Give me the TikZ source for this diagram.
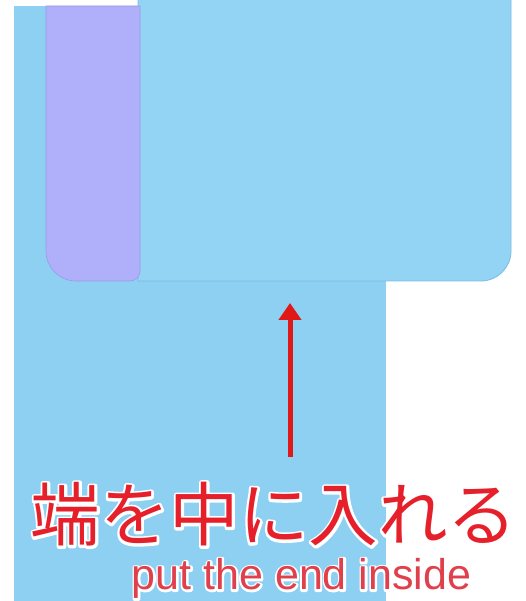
\documentclass[tikz,border=0pt]{standalone}
\usepackage{fontspec}
\setmainfont{Liberation Sans}
\newfontfamily\cjk{Noto Sans CJK JP}
\usetikzlibrary{arrows.meta}
\definecolor{clothback}{HTML}{8DD0F2}
\definecolor{clothfront}{HTML}{93D3F4}
\definecolor{clothedge}{HTML}{7BBCE4}
\definecolor{foldpurple}{HTML}{AFAFFA}
\definecolor{foldedge}{HTML}{9A9AE6}
\definecolor{arrowred}{HTML}{E01818}
\definecolor{jpred}{HTML}{E6202A}
\definecolor{enred}{HTML}{E0404C}
\newcommand{\halolabel}[2]{\rlap{\special{pdf:literal direct q 1 Tr #1 w 1 j 1 J 1 1 1 RG}#2\special{pdf:literal direct 0 Tr Q}}#2}
\tikzset{
  jptext/.style={font=\cjk\fontsize{69.5}{71}\selectfont, inner sep=0pt, anchor=base, text=jpred},
  entext/.style={font=\fontsize{43}{45}\selectfont, inner sep=0pt, anchor=base, text=enred},
  pointer/.style={draw=arrowred, line width=5pt, -{Triangle[length=17pt,width=22pt]}}
}
\begin{document}
\begin{tikzpicture}[x=1pt,y=1pt]
\useasboundingbox (0,0) rectangle (526,601);
\clip (0,0) rectangle (526,601);
\fill[white] (0,0) rectangle (526,601);
% long hanging cloth
\fill[clothback] (14,0) rectangle (386,595);
% front folded panel
\filldraw[fill=clothfront, draw=clothedge, line width=0.8pt]
  (138,608) -- (511,608) -- (511,350) arc[start angle=0,end angle=-90,radius=30] -- (138,320) -- cycle;
% back side of the fold
\filldraw[fill=foldpurple, draw=foldedge, line width=0.6pt]
  (46,595) -- (140,595) -- (140,330) arc[start angle=0,end angle=-90,radius=10] -- (76,320) arc[start angle=270,end angle=180,radius=30] -- cycle;
% arrow
\coordinate (arrowstart) at (290,144);
\coordinate (arrowend) at (290,298);
\draw[pointer] (arrowstart) -- (arrowend);
% labels
\node[jptext] (jplabel) at (274,60) {\halolabel{5}{端を中に入れる}};
\node[entext] (enlabel) at (301.5,11) {\halolabel{4}{put the end inside}};
\end{tikzpicture}
\end{document}
